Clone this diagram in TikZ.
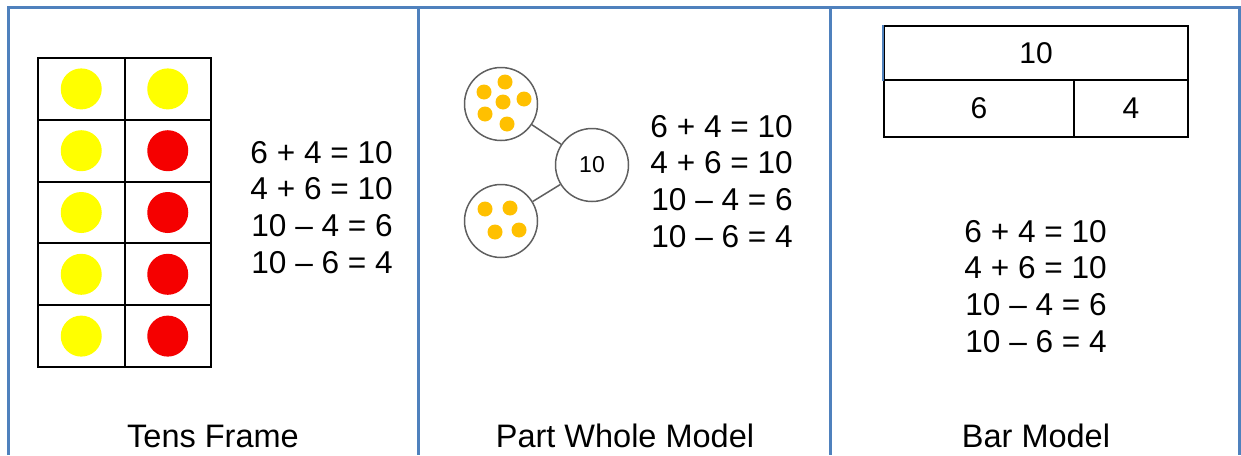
\documentclass[tikz,border=0pt]{standalone}
\usepackage{fontspec}
\setmainfont{Liberation Sans}

\definecolor{frameblue}{HTML}{4F81BD}
\definecolor{dotorange}{HTML}{FFC000}
\definecolor{tenyellow}{HTML}{FFFF00}
\definecolor{tenred}{HTML}{F50000}
\definecolor{ringgray}{HTML}{5F5F5F}

\begin{document}
\begin{tikzpicture}[x=1pt, y=-1pt,
		panel/.style={frameblue, line width=3pt},
		cell/.style={draw, line width=2pt, minimum width=86.5pt, minimum height=61.8pt, inner sep=0pt},
		counter/.style={circle, minimum size=41pt, inner sep=0pt},
		part/.style={circle, draw=ringgray, line width=1.5pt, minimum size=73pt, inner sep=0pt},
		link/.style={ringgray, line width=1.5pt},
		dot/.style={circle, fill=dotorange, minimum size=15pt, inner sep=0pt},
		bar/.style={draw, line width=2pt, inner sep=0pt, font=\fontsize{30}{36}\selectfont},
		eq/.style={anchor=base east, inner sep=0pt, font=\fontsize{31.6}{37}\selectfont},
		caption/.style={anchor=base, inner sep=0pt, font=\fontsize{32.5}{38}\selectfont}]
			\useasboundingbox (0,0) rectangle (1241,455);
			
			% panels
			\draw[panel] (8,455) -- (8,7) -- (1239,7) -- (1239,455);
			\draw[panel] (418,7) -- (418,455);
			\draw[panel] (830,7) -- (830,455);
			
			% tens frame
			\foreach \y in {0,...,4} {
				\foreach \x in {0,1} {
					\node[cell] (cell\x\y) at (81.25+86.5*\x, 88.9+61.8*\y) {};
				}
			}
			\foreach \y in {0,...,4} {
				\node[counter, fill=tenyellow] (yellow\y) at (cell0\y) {};
			}
			\node[counter, fill=tenyellow] (yellowtop) at (cell10) {};
			\foreach \y in {1,...,4} {
				\node[counter, fill=tenred] (red\y) at (cell1\y) {};
			}
			
			% part whole model
			\node[part, font=\fontsize{23}{28}\selectfont] (whole) at (592,165) {10};
			\node[part] (partsix) at (501,104) {};
			\node[part] (partfour) at (501,221) {};
			\draw[link] (partsix) -- (whole);
			\draw[link] (partfour) -- (whole);
			\foreach \x/\y [count=\i] in {484/92, 505/82, 503/102, 524/99, 485/114, 507/124} {
				\node[dot] (sixdot\i) at (\x,\y) {};
			}
			\foreach \x/\y [count=\i] in {485/209, 510/208, 495/232, 519/230} {
				\node[dot] (fourdot\i) at (\x,\y) {};
			}
			
			% bar model
			\node[bar, minimum width=304pt, minimum height=54pt] (barwhole) at (1036,53) {10};
			\node[bar, minimum width=190pt, minimum height=57pt] (barsix) at (979,108.5) {6};
			\node[bar, minimum width=114pt, minimum height=57pt] (barfour) at (1131,108.5) {4};
			\draw[frameblue, line width=2pt] (barwhole.north west) -- (barwhole.south west);
			
			% number sentences
			\foreach \px/\py/\tag in {393/163/tf, 793/137/pw, 1107/242/bm} {
				\foreach \eqn [count=\i from 0] in {6 + 4 = 10, 4 + 6 = 10, 10 – 4 = 6, 10 – 6 = 4} {
					\node[eq] (\tag eq\i) at (\px, \py+36.8*\i) {\eqn};
				}
			}
			
			% captions
			\node[caption] (tfcap) at (213,447) {Tens Frame};
			\node[caption] (pwcap) at (625,447) {Part Whole Model};
			\node[caption] (bmcap) at (1036,447) {Bar Model};
		\end{tikzpicture}
\end{document}
